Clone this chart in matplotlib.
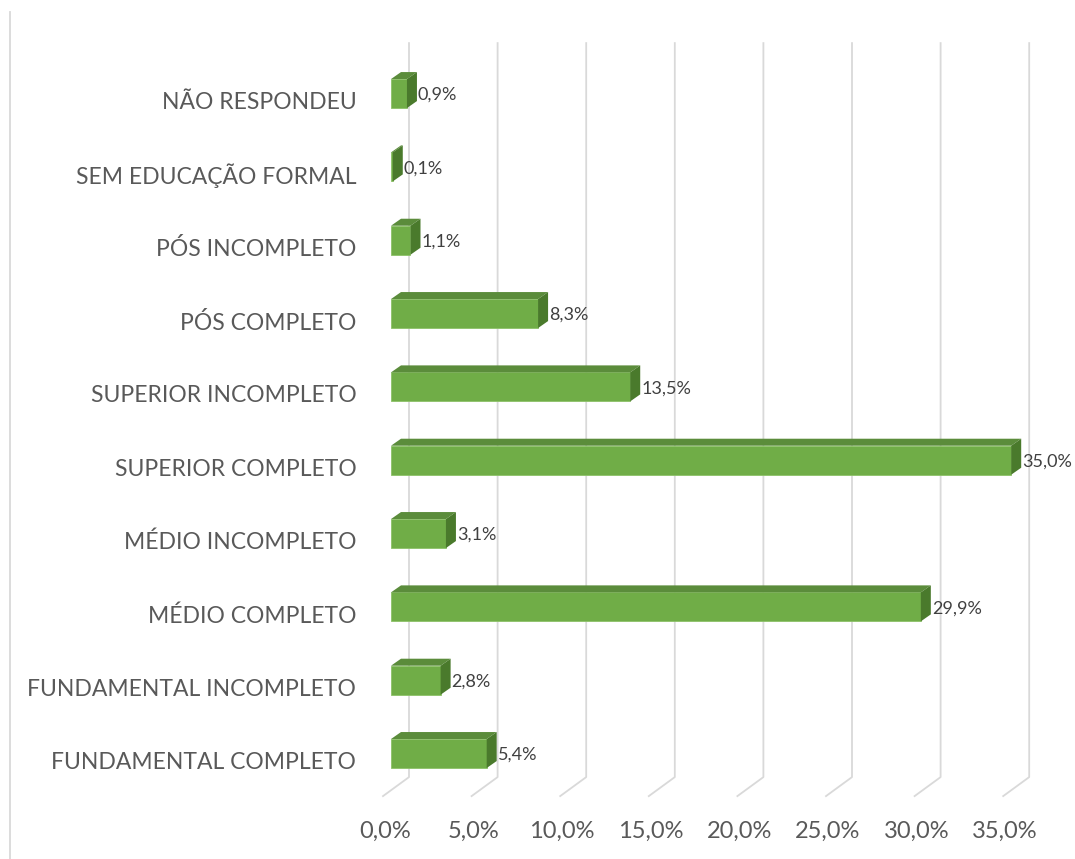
import numpy as np
import matplotlib.pyplot as plt
import matplotlib.transforms as mtransforms
from matplotlib.patches import Polygon
from matplotlib.lines import Line2D

# Dados (de baixo para cima)
categorias = ['FUNDAMENTAL COMPLETO', 'FUNDAMENTAL INCOMPLETO', 'MÉDIO COMPLETO',
              'MÉDIO INCOMPLETO', 'SUPERIOR COMPLETO', 'SUPERIOR INCOMPLETO',
              'PÓS COMPLETO', 'PÓS INCOMPLETO', 'SEM EDUCAÇÃO FORMAL', 'NÃO RESPONDEU']
valores = [5.4, 2.8, 29.9, 3.1, 35.0, 13.5, 8.3, 1.1, 0.1, 0.9]
ticks = [0, 5, 10, 15, 20, 25, 30, 35]

plt.rcParams['font.family'] = ['Lato', 'DejaVu Sans']
W, H = 1075, 859
fig = plt.figure(figsize=(W / 100, H / 100), dpi=100)

# eixo calibrado em pixels: 0% em x=391, 1% = 17.72 px
px_x = 17.72
px_y = 73.33
x0, xmax = 391, 36.5
ax = fig.add_axes([x0 / W, (H - 790.2) / H, xmax * px_x / W, 10 * px_y / H])
ax.set_xlim(0, xmax)
ax.set_ylim(-0.5, 9.5)
for s in ax.spines.values():
    s.set_visible(False)
ax.set_xticks([])

def dx(p):
    return p / px_x

def dy(p):
    return p / px_y

def ypix(p):  # pixel vertical (de cima) -> dado
    return 9.5 + (56.8 - p) / px_y

# linhas de grade com efeito 3D
grid_c = '#D9D9D9'
for t in ticks:
    xb = t + dx(18)
    xf = t - dx(8)
    ax.plot([xb, xb, xf], [ypix(43), ypix(777), ypix(796)], color=grid_c,
            lw=1.3, clip_on=False, zorder=0)
    ax.text(xf + dx(2), ypix(831), f'{t:.1f}%'.replace('.', ','), ha='center', va='center',
            fontsize=17, color='#595959')

# barras 3D
h = 29 / px_y
ddx, ddy = dx(10), dy(7)
y = np.arange(len(valores))
ax.barh(y, valores, height=h, color='#70AD47', edgecolor='#8CC168', lw=0.6, zorder=3)
for yi, v in zip(y, valores):
    top = yi + h / 2
    bot = yi - h / 2
    ax.add_patch(Polygon([(0, top), (v, top), (v + ddx, top + ddy), (ddx, top + ddy)],
                         closed=True, facecolor='#5B8C3B', edgecolor='none', zorder=3))
    ax.add_patch(Polygon([(v, bot), (v, top), (v + ddx, top + ddy), (v + ddx, bot + ddy)],
                         closed=True, facecolor='#4A7A2C', edgecolor='none', zorder=3))
    ax.text(v + ddx + dx(1), yi - dy(1.5), f'{v:.1f}%'.replace('.', ','),
            ha='left', va='center', fontsize=13, color='#404040', zorder=4)

ax.set_yticks(y)
ax.set_yticklabels(categorias, fontsize=16.5, color='#595959')
ax.tick_params(axis='y', length=0, pad=25)
shift = mtransforms.ScaledTranslation(0, -7 / 100, fig.dpi_scale_trans)
for lab in ax.get_yticklabels():
    lab.set_transform(lab.get_transform() + shift)

# borda esquerda do gráfico
fig.add_artist(Line2D([10 / W, 10 / W], [0, (H - 12) / H], color=grid_c, lw=1.3))

fig.savefig('out.png', dpi=100, facecolor='white')
